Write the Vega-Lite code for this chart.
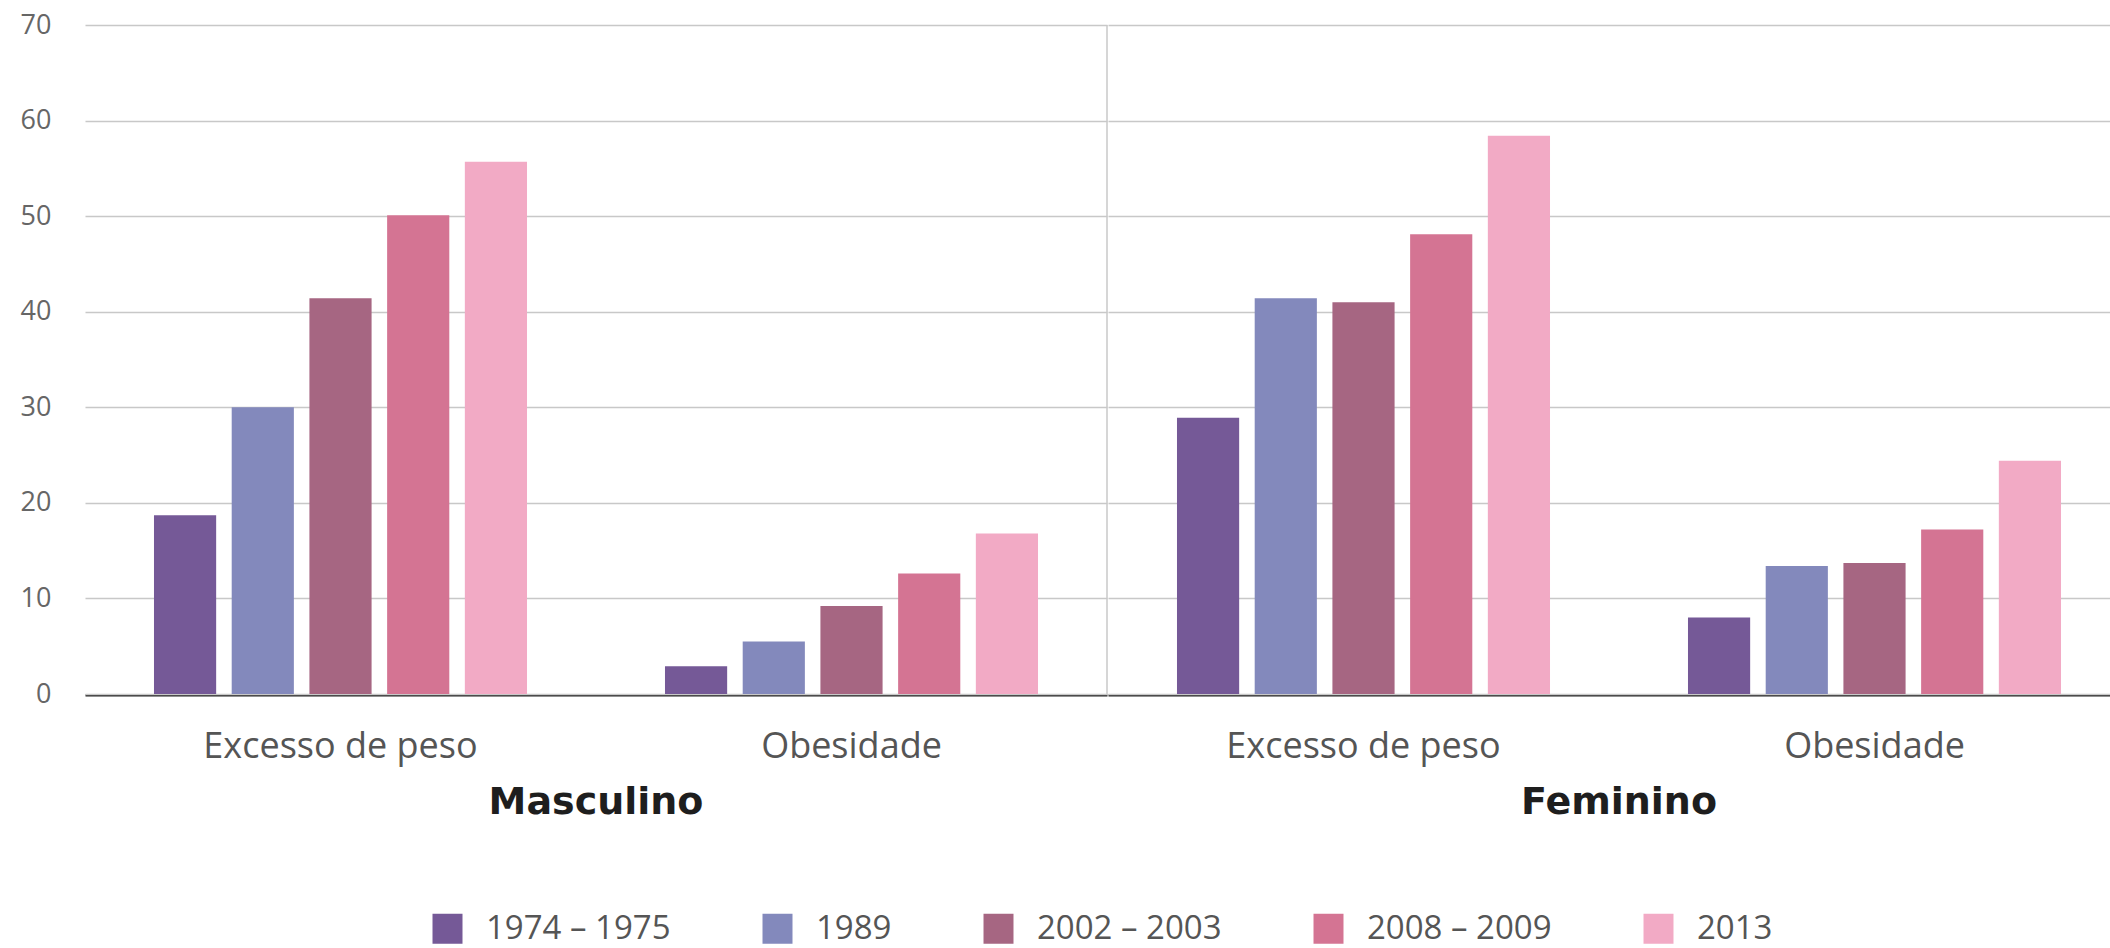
{
  "$schema": "https://vega.github.io/schema/vega-lite/v6.json",
  "padding": {"left": 20, "top": 11, "right": 0, "bottom": 0},
  "background": "white",
  "data": {"values": [
    {"sexo": "Masculino", "categoria": "Excesso de peso", "periodo": "1974 – 1975", "valor": 18.7},
    {"sexo": "Masculino", "categoria": "Excesso de peso", "periodo": "1989", "valor": 30.0},
    {"sexo": "Masculino", "categoria": "Excesso de peso", "periodo": "2002 – 2003", "valor": 41.4},
    {"sexo": "Masculino", "categoria": "Excesso de peso", "periodo": "2008 – 2009", "valor": 50.1},
    {"sexo": "Masculino", "categoria": "Excesso de peso", "periodo": "2013", "valor": 55.7},
    {"sexo": "Masculino", "categoria": "Obesidade", "periodo": "1974 – 1975", "valor": 2.9},
    {"sexo": "Masculino", "categoria": "Obesidade", "periodo": "1989", "valor": 5.5},
    {"sexo": "Masculino", "categoria": "Obesidade", "periodo": "2002 – 2003", "valor": 9.2},
    {"sexo": "Masculino", "categoria": "Obesidade", "periodo": "2008 – 2009", "valor": 12.6},
    {"sexo": "Masculino", "categoria": "Obesidade", "periodo": "2013", "valor": 16.8},
    {"sexo": "Feminino", "categoria": "Excesso de peso", "periodo": "1974 – 1975", "valor": 28.9},
    {"sexo": "Feminino", "categoria": "Excesso de peso", "periodo": "1989", "valor": 41.4},
    {"sexo": "Feminino", "categoria": "Excesso de peso", "periodo": "2002 – 2003", "valor": 41.0},
    {"sexo": "Feminino", "categoria": "Excesso de peso", "periodo": "2008 – 2009", "valor": 48.1},
    {"sexo": "Feminino", "categoria": "Excesso de peso", "periodo": "2013", "valor": 58.4},
    {"sexo": "Feminino", "categoria": "Obesidade", "periodo": "1974 – 1975", "valor": 8.0},
    {"sexo": "Feminino", "categoria": "Obesidade", "periodo": "1989", "valor": 13.4},
    {"sexo": "Feminino", "categoria": "Obesidade", "periodo": "2002 – 2003", "valor": 13.7},
    {"sexo": "Feminino", "categoria": "Obesidade", "periodo": "2008 – 2009", "valor": 17.2},
    {"sexo": "Feminino", "categoria": "Obesidade", "periodo": "2013", "valor": 24.4}
  ]},
  "facet": {
    "column": {
      "field": "sexo",
      "type": "nominal",
      "sort": ["Masculino", "Feminino"],
      "header": {
        "title": null,
        "labelOrient": "bottom",
        "labelFont": "DejaVu Sans",
        "labelFontSize": 38,
        "labelFontWeight": "bold",
        "labelColor": "#1e1e1e",
        "labelPadding": 20
      }
    }
  },
  "spacing": 0,
  "spec": {
    "width": 1022,
    "height": 669,
    "layer": [
      {
        "mark": {"type": "bar"},
        "encoding": {
          "x": {
            "field": "categoria",
            "type": "nominal",
            "sort": ["Excesso de peso", "Obesidade"],
            "scale": {"paddingInner": 0.27, "paddingOuter": 0.135},
            "axis": {
              "title": null,
              "labelAngle": 0,
              "labelLimit": 0,
              "ticks": false,
              "domain": true,
              "domainColor": "#222222",
              "domainWidth": 2,
              "labelPadding": 34,
              "labelFont": "Open Sans",
              "labelFontSize": 36,
              "labelColor": "#555555",
              "grid": false,
              "zindex": 1
            }
          },
          "xOffset": {
            "field": "periodo",
            "type": "nominal",
            "sort": ["1974 – 1975", "1989", "2002 – 2003", "2008 – 2009", "2013"],
            "scale": {"paddingInner": 0.2, "paddingOuter": 0}
          },
          "y": {
            "field": "valor",
            "type": "quantitative",
            "scale": {"domain": [0, 70], "nice": false},
            "axis": {
              "title": null,
              "values": [0, 10, 20, 30, 40, 50, 60, 70],
              "domain": false,
              "ticks": false,
              "grid": true,
              "gridColor": "#c8c8c8",
              "gridWidth": 1.5,
              "labelPadding": 34,
              "labelFont": "Open Sans",
              "labelFontSize": 27,
              "labelColor": "#666666",
              "zindex": 0
            }
          },
          "color": {
            "field": "periodo",
            "type": "nominal",
            "sort": ["1974 – 1975", "1989", "2002 – 2003", "2008 – 2009", "2013"],
            "scale": {
              "domain": ["1974 – 1975", "1989", "2002 – 2003", "2008 – 2009", "2013"],
              "range": ["#755997", "#8389bc", "#a66682", "#d47493", "#f2aac5"]
            },
            "legend": {
              "title": null,
              "orient": "none",
              "direction": "horizontal",
              "legendX": 346,
              "legendY": 887,
              "symbolType": "square",
              "symbolSize": 900,
              "symbolStrokeWidth": 0,
              "labelFont": "Open Sans",
              "labelFontSize": 33,
              "labelLimit": 0,
              "labelColor": "#555555",
              "labelOffset": 22,
              "columnPadding": 90
            }
          }
        }
      },
      {
        "transform": [{"filter": "datum.sexo == 'Masculino' && datum.periodo == '2013' && datum.categoria == 'Obesidade'"}],
        "mark": {"type": "rule", "color": "#c8c8c8", "strokeWidth": 1.5},
        "encoding": {"x": {"value": "width"}}
      }
    ]
  },
  "config": {
    "view": {"stroke": null},
    "font": "Open Sans"
  }
}
